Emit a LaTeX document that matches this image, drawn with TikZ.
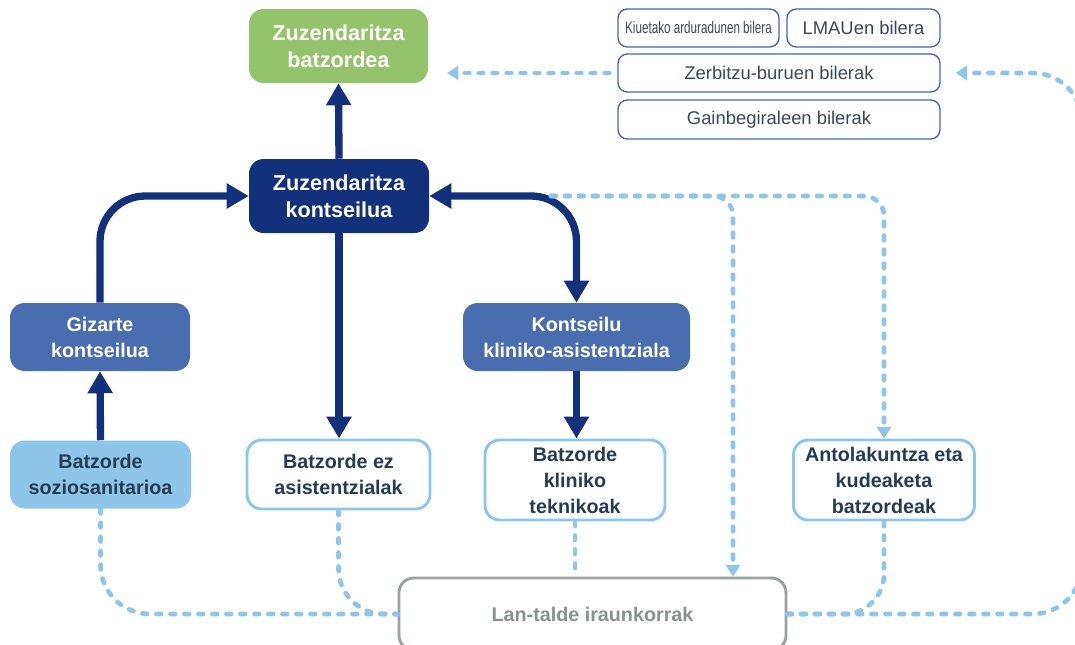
\documentclass[tikz,border=0pt]{standalone}
\usepackage{fontspec}
\setmainfont{Liberation Sans}
\newfontfamily\narrowfont[FakeStretch=0.7]{Liberation Sans}
\usetikzlibrary{arrows.meta,calc}

\definecolor{navy}{HTML}{13307A}
\definecolor{leaf}{HTML}{93C36B}
\definecolor{midblue}{HTML}{4A6DB0}
\definecolor{skyblue}{HTML}{8EC6E9}
\definecolor{inktext}{HTML}{263B50}
\definecolor{stone}{HTML}{9AA39F}
\definecolor{stonetext}{HTML}{87918D}
\definecolor{meetline}{HTML}{4566A8}
\definecolor{meettext}{HTML}{3B4756}

\begin{document}
\begin{tikzpicture}[x=0.75pt,y=-0.75pt,
  sz/.style 2 args={minimum width=#1*0.75pt, minimum height=#2*0.75pt},
  box/.style={rounded corners=11pt, align=center, inner sep=0pt,
    font=\bfseries\fontsize{14.8}{19.5}\selectfont},
  topbox/.style={box, font=\bfseries\fontsize{16.2}{20}\selectfont, text=white},
  council/.style={box, fill=midblue, text=white},
  committee/.style={box, draw=skyblue, line width=2.2pt, fill=white, text=inktext},
  meeting/.style={rounded corners=7pt, draw=meetline, line width=1pt, align=center,
    inner sep=0pt, text=meettext, font=\fontsize{13.8}{16}\selectfont},
  navyarrow/.style={draw=navy, line width=5.5pt, rounded corners=34pt,
    -{Triangle[width=18pt,length=16.5pt]}},
  navyboth/.style={navyarrow, {Triangle[width=18pt,length=16.5pt]}-{Triangle[width=18pt,length=16.5pt]}},
  dashline/.style={draw=skyblue, line width=3.5pt, line cap=round,
    dash pattern=on 3.5pt off 7pt},
  dasharrow/.style={dashline, -{Triangle[width=10.5pt,length=8.5pt]}},
]
\useasboundingbox (0,0) rectangle (1075,644);
\clip (0,0) rectangle (1075,644);

% governing bodies
\node[topbox, fill=leaf, sz={179}{74}] (zb) at (338.5,46) {Zuzendaritza\\batzordea};
\node[topbox, fill=navy, sz={180}{74}] (zk) at (339,196) {Zuzendaritza\\kontseilua};

% councils
\node[council, sz={180}{68}] (gk) at (100,337) {Gizarte\\kontseilua};
\node[council, sz={227}{68}] (kk) at (576.5,337) {Kontseilu\\kliniko-asistentziala};

% committees
\node[box, fill=skyblue, text=inktext, sz={181}{68}] (bs) at (100.5,474.5) {Batzorde\\soziosanitarioa};
\node[committee, sz={183}{69}] (bez) at (338.5,474.5) {Batzorde ez\\asistentzialak};
\node[committee, sz={180}{80}] (bkt) at (575,480) {Batzorde\\kliniko\\teknikoak};
\node[committee, sz={181}{80}] (akb) at (884,480) {Antolakuntza eta\\kudeaketa\\batzordeak};

% permanent working groups
\node[box, draw=stone, line width=2.2pt, fill=white, text=stonetext, sz={387}{72}] (lt) at (592.5,614) {Lan-talde iraunkorrak};

% meetings
\node[meeting, sz={161}{38}, font=\narrowfont\fontsize{12.5}{14}\selectfont] (kab) at (698.5,28) {Kiuetako arduradunen bilera};
\node[meeting, sz={153}{38}] (lmau) at (863.5,28) {LMAUen bilera};
\node[meeting, sz={322}{38}] (zbb) at (779,73) {Zerbitzu-buruen bilerak};
\node[meeting, sz={322}{39}] (gbb) at (779,119.5) {Gainbegiraleen bilerak};

% solid hierarchy arrows
\draw[navyarrow] (zk.north) -- (zb.south);
\draw[navyarrow] (gk.north) |- (zk.west);
\draw[navyarrow] (bs.north) -- (gk.south);
\draw[navyarrow] (zk.south) -- (zk.south |- bez.north);
\draw[navyboth] (zk.east) -| (kk.north);
\draw[navyarrow] (kk.south) -- (kk.south |- bkt.north);

% dashed links
\coordinate (ds) at (551,196);
\coordinate (zbtip) at (447,73);
\coordinate (loopcorner) at (1082,73);
\draw[dasharrow] ($(zbb.west)+(-8,0)$) -- (zbtip);
\draw[dasharrow, rounded corners=15pt] (ds) -| (akb.north);
\draw[dasharrow, rounded corners=15pt] (ds) -| ($(lt.north)+(140.5,0)$);
\draw[dashline, rounded corners=37pt] (bs.south) |- (lt.west);
\draw[dashline, rounded corners=34pt] (bez.south) |- (lt.west);
\draw[dashline] (bkt.south) -- (bkt.south |- lt.north);
\draw[dashline, rounded corners=30pt] (akb.south) |- (lt.east);
\draw[dasharrow, rounded corners=37pt] (lt.east) -| (loopcorner) -- ($(zbb.east)+(15,0)$);
\end{tikzpicture}
\end{document}
